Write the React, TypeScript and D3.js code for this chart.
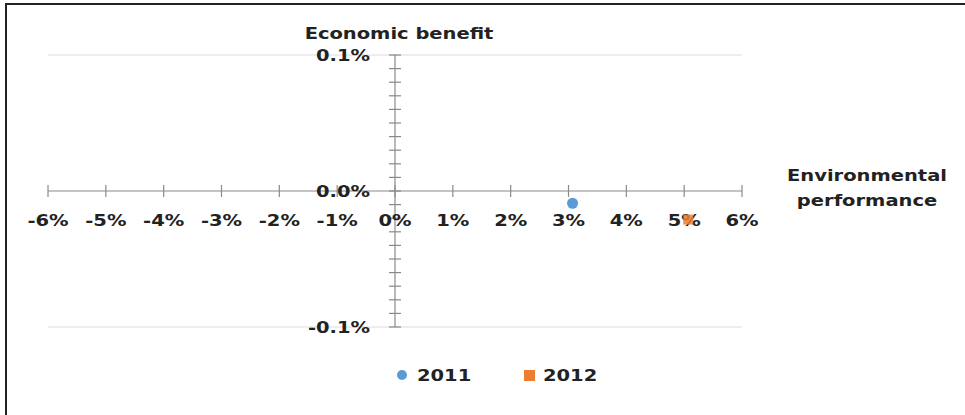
import React from 'react';
import * as d3 from 'd3';

const years = ['2011', '2012'];
const envPerformance = [3.07, 5.07]; // %
const econBenefit = [-0.009, -0.021]; // %
const seriesColors = ['#5b9bd5', '#ed7d31'];
const xTickValues = [-6, -5, -4, -3, -2, -1, 0, 1, 2, 3, 4, 5, 6];
const yTickValues = [0.1, 0, -0.1];
const yTickLabels = ['0.1%', '0.0%', '-0.1%'];

const W = 965;
const H = 415;
const FONT = '"DejaVu Sans", Verdana, sans-serif';
const SX = 1.3;

function T({ x, y, anchor = 'start', children, size = 15, fill = '#222' }: any) {
  return (
    <text
      transform={`translate(${x},${y}) scale(${SX},1)`}
      textAnchor={anchor}
      fontFamily={FONT}
      fontWeight="bold"
      fontSize={size}
      fill={fill}
    >
      {children}
    </text>
  );
}

export default function App() {
  const x = d3.scaleLinear().domain([-6, 6]).range([48, 742]);
  const y = d3.scaleLinear().domain([-0.1, 0.1]).range([327, 55]);
  const minorY = y.ticks(20);
  const axisColor = '#8a8a8a';
  const gridColor = '#dcdcdc';
  const x0 = x(0);
  const y0 = y(0);

  return (
    <svg
      width={W}
      height={H}
      style={{ position: 'absolute', left: 0, top: 0, background: '#fff' }}
    >
      <rect x={0} y={0} width={W} height={H} fill="#fff" />
      {/* border */}
      <line x1={6} x2={6} y1={3} y2={H} stroke="#222" strokeWidth={2} />
      <line x1={5} x2={W} y1={4} y2={4} stroke="#222" strokeWidth={2} />

      {/* gridlines */}
      {[0.1, -0.1].map((v) => (
        <line key={v} x1={x(-6)} x2={x(6)} y1={y(v)} y2={y(v)} stroke={gridColor} strokeWidth={1} />
      ))}

      {/* x axis */}
      <line x1={x(-6)} x2={x(6)} y1={y0} y2={y0} stroke={axisColor} strokeWidth={1.2} />
      {xTickValues.map((v) => (
        <line key={v} x1={x(v)} x2={x(v)} y1={y0 - 6} y2={y0 + 6} stroke={axisColor} strokeWidth={1.2} />
      ))}

      {/* y axis */}
      <line x1={x0} x2={x0} y1={y(0.1)} y2={y(-0.1)} stroke={axisColor} strokeWidth={1.2} />
      {minorY.map((v) => (
        <line key={v} x1={x0 - 6} x2={x0 + 6} y1={y(v)} y2={y(v)} stroke={axisColor} strokeWidth={1.2} />
      ))}

      {/* y labels */}
      {yTickValues.map((v, i) => (
        <T key={v} x={370} y={y(v) + 6} anchor="end">
          {yTickLabels[i]}
        </T>
      ))}

      {/* x labels */}
      {xTickValues.map((v) => (
        <T key={v} x={x(v)} y={y0 + 35} anchor="middle">
          {`${v}%`}
        </T>
      ))}

      {/* axis titles */}
      <T x={399} y={39} anchor="middle">Economic benefit</T>
      <T x={867} y={181} anchor="middle">Environmental</T>
      <T x={867} y={206} anchor="middle">performance</T>

      {/* points */}
      <circle cx={x(envPerformance[0])} cy={y(econBenefit[0])} r={5.5} fill={seriesColors[0]} />
      <rect
        x={x(envPerformance[1]) - 5}
        y={y(econBenefit[1]) - 5}
        width={10}
        height={10}
        fill={seriesColors[1]}
        opacity={0.85}
      />

      {/* legend */}
      <circle cx={402} cy={375} r={5} fill={seriesColors[0]} />
      <T x={417} y={381}>{years[0]}</T>
      <rect x={524} y={370} width={11} height={11} fill={seriesColors[1]} />
      <T x={543} y={381}>{years[1]}</T>
    </svg>
  );
}
